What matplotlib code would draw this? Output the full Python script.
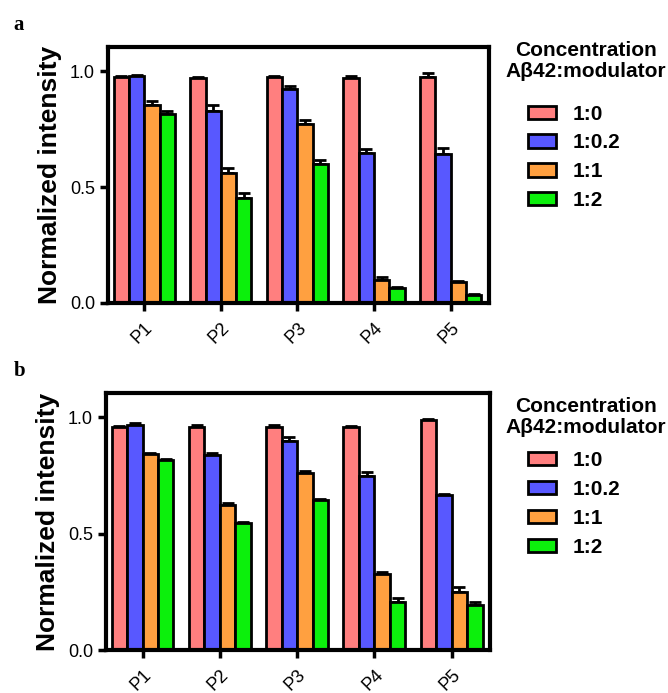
import numpy as np
import matplotlib
matplotlib.use("Agg")
import matplotlib.pyplot as plt
from matplotlib.patches import Patch

plt.rcParams['font.family'] = ['Liberation Sans', 'DejaVu Sans']

peaks = ["P1", "P2", "P3", "P4", "P5"]
ratios = ["1:0", "1:0.2", "1:1", "1:2"]
colors = ["#ff7f7f", "#5858ff", "#ffa040", "#0cf00c"]

# panel a, one list per ratio, values for P1..P5
a_vals = [
    [0.978, 0.970, 0.977, 0.973, 0.977],
    [0.980, 0.831, 0.924, 0.648, 0.645],
    [0.855, 0.559, 0.774, 0.100, 0.089],
    [0.815, 0.451, 0.600, 0.063, 0.036],
]
a_err = [
    [0.004, 0.008, 0.004, 0.006, 0.015],
    [0.005, 0.022, 0.015, 0.016, 0.026],
    [0.016, 0.025, 0.017, 0.013, 0.006],
    [0.013, 0.025, 0.016, 0.005, 0.004],
]

# panel b
b_vals = [
    [0.958, 0.958, 0.958, 0.958, 0.987],
    [0.968, 0.839, 0.900, 0.749, 0.667],
    [0.842, 0.624, 0.760, 0.326, 0.251],
    [0.815, 0.545, 0.643, 0.208, 0.194],
]
b_err = [
    [0.005, 0.008, 0.008, 0.004, 0.006],
    [0.008, 0.006, 0.014, 0.016, 0.005],
    [0.006, 0.010, 0.008, 0.011, 0.019],
    [0.007, 0.005, 0.005, 0.017, 0.014],
]

fig = plt.figure(figsize=(6.68, 6.93), dpi=100)
ax_a = fig.add_axes([0.162, 0.563, 0.570, 0.369])
ax_b = fig.add_axes([0.159, 0.062, 0.575, 0.371])

x = np.arange(len(peaks))
w = 0.2
offsets = [-0.3, -0.1, 0.1, 0.3]


def draw_panel(ax, vals, errs):
    for i in range(len(ratios)):
        low = np.zeros(len(peaks))
        ax.bar(x + offsets[i], vals[i], w, color=colors[i], edgecolor="black",
               linewidth=2, yerr=[low, errs[i]], zorder=2,
               error_kw=dict(ecolor="black", elinewidth=2, capsize=4, capthick=2, zorder=1))
    ax.set_xlim(-0.47, 4.5)
    ax.set_ylim(0, 1.105)
    ax.set_yticks([0, 0.5, 1.0])
    ax.set_yticklabels(["0.0", "0.5", "1.0"])
    ax.set_xticks(x)
    ax.set_xticklabels(peaks, rotation=45, ha="right", rotation_mode="anchor")
    for s in ax.spines.values():
        s.set_linewidth(3)
    ax.tick_params(axis="both", direction="out", length=6, width=2.5, labelsize=13)
    ax.tick_params(axis="x", pad=6)
    ax.set_ylabel("Normalized intensity", fontsize=19, fontweight="bold", labelpad=6)


draw_panel(ax_a, a_vals, a_err)
draw_panel(ax_b, b_vals, b_err)

handles = [Patch(facecolor=c, edgecolor="black", linewidth=2) for c in colors]
for ytitle, yleg in [(0.941, 0.864), (0.427, 0.364)]:
    fig.text(0.877, ytitle, "Concentration\nA\u03b242:modulator", ha="center", va="top",
             fontsize=15, fontweight="bold", linespacing=1.15)
    fig.legend(handles, ratios, loc="upper left", bbox_to_anchor=(0.775, yleg),
               frameon=False, prop=dict(size=15, weight="bold"), handlelength=1.35,
               handleheight=0.6, handletextpad=0.8, labelspacing=0.47, borderpad=0)

fig.text(0.02, 0.978, "a", fontsize=15, fontweight="bold", family="Liberation Serif", va="top")
fig.text(0.02, 0.479, "b", fontsize=15, fontweight="bold", family="Liberation Serif", va="top")

fig.savefig("out.png", dpi=100)
